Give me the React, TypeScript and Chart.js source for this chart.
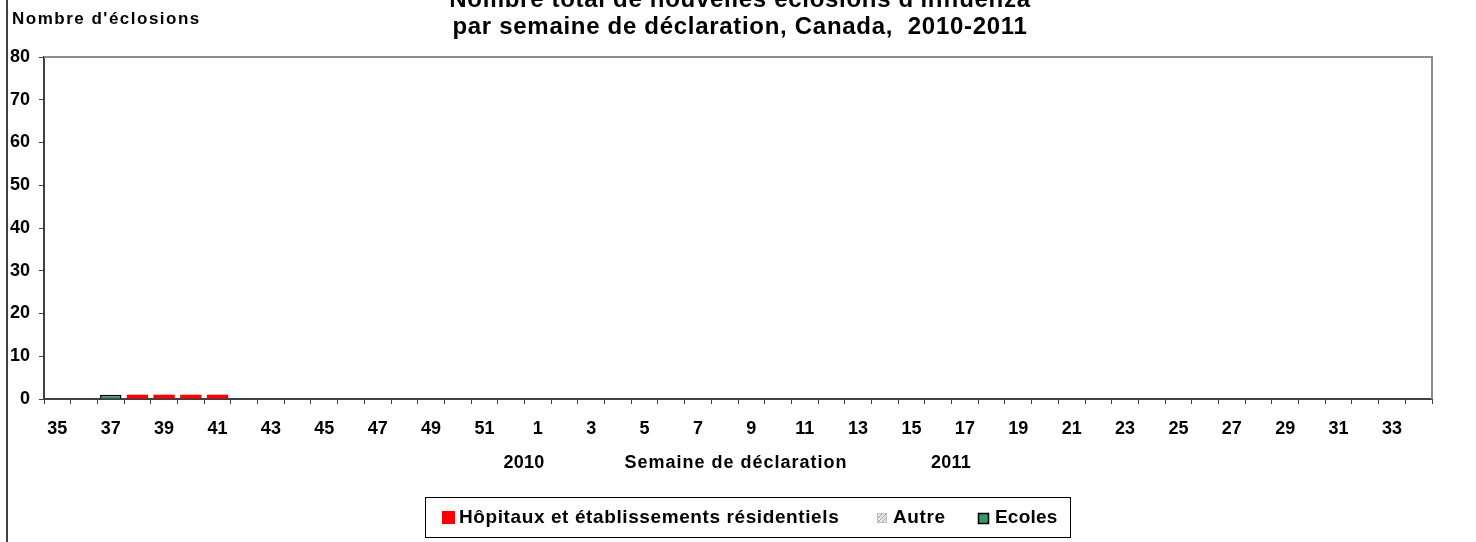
import React, { useEffect, useRef } from "react";
import { Chart, registerables } from "chart.js";

Chart.register(...registerables);

const weeks: string[] = [
  "35", "36", "37", "38", "39", "40", "41", "42", "43", "44", "45", "46", "47", "48", "49", "50", "51", "52",
  "1", "2", "3", "4", "5", "6", "7", "8", "9", "10", "11", "12", "13", "14", "15", "16", "17",
  "18", "19", "20", "21", "22", "23", "24", "25", "26", "27", "28", "29", "30", "31", "32", "33", "34",
];

const hopitaux: number[] = [
  0, 0, 0, 1, 1, 1, 1, 0, 0, 0, 0, 0, 0, 0, 0, 0, 0, 0,
  0, 0, 0, 0, 0, 0, 0, 0, 0, 0, 0, 0, 0, 0, 0, 0, 0,
  0, 0, 0, 0, 0, 0, 0, 0, 0, 0, 0, 0, 0, 0, 0, 0, 0,
];

const autre: number[] = [
  0, 0, 0, 0, 0, 0, 0, 0, 0, 0, 0, 0, 0, 0, 0, 0, 0, 0,
  0, 0, 0, 0, 0, 0, 0, 0, 0, 0, 0, 0, 0, 0, 0, 0, 0,
  0, 0, 0, 0, 0, 0, 0, 0, 0, 0, 0, 0, 0, 0, 0, 0, 0,
];

const ecoles: number[] = [
  0, 0, 1, 0, 0, 0, 0, 0, 0, 0, 0, 0, 0, 0, 0, 0, 0, 0,
  0, 0, 0, 0, 0, 0, 0, 0, 0, 0, 0, 0, 0, 0, 0, 0, 0,
  0, 0, 0, 0, 0, 0, 0, 0, 0, 0, 0, 0, 0, 0, 0, 0, 0,
];

const yTicks: number[] = [0, 10, 20, 30, 40, 50, 60, 70, 80];

const titleLines: string[] = [
  "Nombre total de nouvelles éclosions d'influenza",
  "par semaine de déclaration, Canada,  2010-2011",
];
const yTitle = "Nombre d'éclosions";
const xTitle = "Semaine de déclaration";
const yearLabels: string[] = ["2010", "2011"];
const legendLabels: string[] = ["Hôpitaux et établissements résidentiels", "Autre", "Ecoles"];

const RED = "#FF0000";
const GREEN = "#339966";
const FONT = "'Liberation Sans', Arial, sans-serif";

function makeHatch(): CanvasPattern | string {
  const c = document.createElement("canvas");
  c.width = 4;
  c.height = 4;
  const g = c.getContext("2d");
  if (!g) return "#cccccc";
  g.fillStyle = "#e8e8e8";
  g.fillRect(0, 0, 4, 4);
  g.strokeStyle = "#a0a0a0";
  g.lineWidth = 1;
  g.beginPath();
  g.moveTo(0, 4);
  g.lineTo(4, 0);
  g.stroke();
  return g.createPattern(c, "repeat") || "#cccccc";
}

function spacedText(ctx: any, text: string, x: number, y: number, spacing: number) {
  ctx.letterSpacing = `${spacing}px`;
  ctx.fillText(text, x, y);
  ctx.letterSpacing = "0px";
}

export default function App() {
  const ref = useRef<HTMLCanvasElement>(null);

  useEffect(() => {
    document.body.style.margin = "0";
    const canvas = ref.current;
    if (!canvas) return;
    const hatch = makeHatch();

    const decor = {
      id: "decor",
      afterDraw(chart: any) {
        const ctx = chart.ctx;
        const area = chart.chartArea;
        ctx.save();
        // outer left border
        ctx.strokeStyle = "#000";
        ctx.lineWidth = 1.5;
        ctx.beginPath();
        ctx.moveTo(7, 0);
        ctx.lineTo(7, 542);
        ctx.stroke();
        // plot top/right border
        ctx.strokeStyle = "#8c8c8c";
        ctx.lineWidth = 2;
        ctx.beginPath();
        ctx.moveTo(area.left, area.top);
        ctx.lineTo(area.right, area.top);
        ctx.lineTo(area.right, area.bottom);
        ctx.stroke();
        // titles
        ctx.fillStyle = "#000";
        ctx.textAlign = "center";
        ctx.textBaseline = "alphabetic";
        ctx.font = `bold 24px ${FONT}`;
        spacedText(ctx, titleLines[0], 740, 7, 0.7);
        spacedText(ctx, titleLines[1], 740, 34, 0.7);
        ctx.textAlign = "left";
        ctx.font = `bold 17px ${FONT}`;
        spacedText(ctx, yTitle, 12, 24, 1.5);
        // x title and years
        ctx.textAlign = "center";
        ctx.font = `bold 18px ${FONT}`;
        spacedText(ctx, yearLabels[0], 524, 468, 0.3);
        spacedText(ctx, xTitle, 736, 468, 1.0);
        spacedText(ctx, yearLabels[1], 951, 468, 0.3);
        // legend
        ctx.strokeStyle = "#000";
        ctx.lineWidth = 1;
        ctx.strokeRect(425.5, 497.5, 645, 40);
        ctx.fillStyle = RED;
        ctx.fillRect(442, 511, 13, 13);
        ctx.fillStyle = hatch as any;
        ctx.fillRect(877, 513, 10, 10);
        ctx.strokeStyle = "#c0c0c0";
        ctx.strokeRect(877.5, 513.5, 9, 9);
        ctx.fillStyle = GREEN;
        ctx.fillRect(978, 513, 11, 11);
        ctx.strokeStyle = "#000";
        ctx.lineWidth = 1.5;
        ctx.strokeRect(978.5, 513.5, 10, 10);
        ctx.fillStyle = "#000";
        ctx.textAlign = "left";
        ctx.font = `bold 19px ${FONT}`;
        spacedText(ctx, legendLabels[0], 459, 523, 0.6);
        spacedText(ctx, legendLabels[1], 893, 523, 0.6);
        spacedText(ctx, legendLabels[2], 995, 523, 0.2);
        ctx.restore();
      },
    };

    const chart = new Chart(canvas, {
      type: "bar",
      data: {
        labels: weeks,
        datasets: [
          { label: legendLabels[0], data: hopitaux, backgroundColor: RED, borderWidth: 0 },
          { label: legendLabels[1], data: autre, backgroundColor: hatch as any, borderColor: "#a0a0a0", borderWidth: 0 },
          { label: legendLabels[2], data: ecoles, backgroundColor: GREEN, borderColor: "#000", borderWidth: 1.5 },
        ],
      },
      options: {
        animation: false,
        responsive: false,
        maintainAspectRatio: false,
        layout: { padding: { left: 0, top: 57, right: 44, bottom: 0 } },
        plugins: {
          legend: { display: false },
          title: { display: false },
          tooltip: { enabled: false },
        },
        datasets: { bar: { barPercentage: 0.8, categoryPercentage: 1 } },
        scales: {
          x: {
            stacked: true,
            offset: true,
            grid: {
              offset: true,
              drawOnChartArea: false,
              drawTicks: true,
              tickLength: 5,
              color: "#404040",
            },
            border: { display: true, color: "#404040", width: 2 },
            ticks: {
              autoSkip: false,
              maxRotation: 0,
              minRotation: 0,
              padding: 14,
              color: "#000",
              font: { family: FONT, size: 18, weight: "bold" },
              callback: (_v: any, i: number) => (i % 2 === 0 ? weeks[i] : ""),
            },
            afterFit: (s: any) => {
              s.height = 143;
            },
          },
          y: {
            stacked: true,
            min: 0,
            max: 80,
            afterBuildTicks: (s: any) => {
              s.ticks = yTicks.map((v) => ({ value: v }));
            },
            grid: {
              drawOnChartArea: false,
              drawTicks: true,
              tickLength: 5,
              color: "#404040",
            },
            border: { display: true, color: "#404040", width: 2 },
            ticks: {
              padding: 9,
              color: "#000",
              font: { family: FONT, size: 18, weight: "bold" },
            },
            afterFit: (s: any) => {
              s.width = 44;
            },
          },
        },
      },
      plugins: [decor],
    });

    return () => chart.destroy();
  }, []);

  return <canvas ref={ref} width={1476} height={542} style={{ display: "block" }} />;
}
